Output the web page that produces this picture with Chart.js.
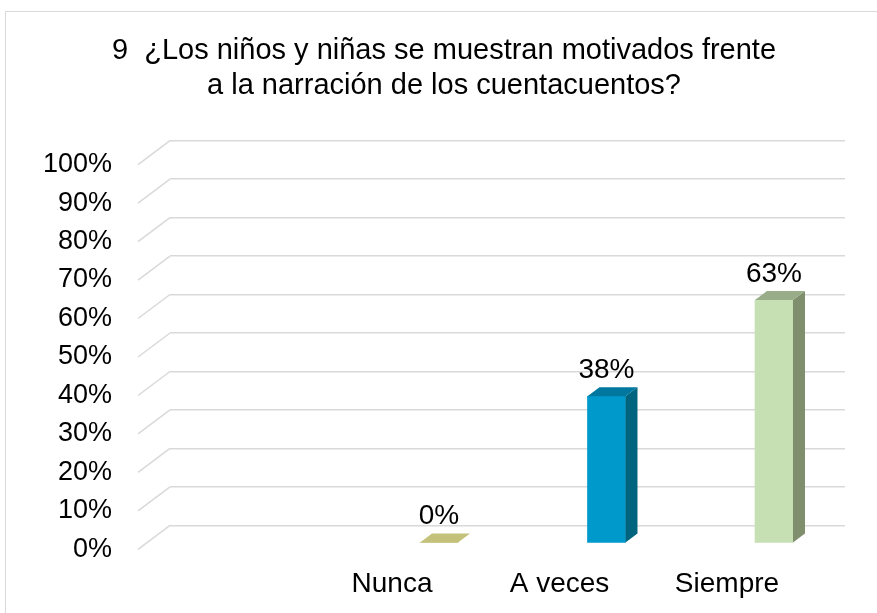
<!DOCTYPE html>
<html lang="es">
<head>
  <meta charset="UTF-8">
  <title>Niños motivados frente a la narración</title>
  <style>
    body { margin: 0; background: #fff; }
    #wrap { position: relative; width: 877px; height: 613px; overflow: hidden; }
    #frame { position: absolute; left: 5px; top: 11px; width: 950px; height: 700px; border: 1.5px solid #d9d9d9; }
    canvas { position: absolute; left: 0; top: 0; }
  </style>
</head>
<body>
  <div id="wrap">
    <div id="frame"></div>
    <canvas id="chart" width="877" height="613"></canvas>
  </div>

  <script src="https://cdn.jsdelivr.net/npm/chart.js"></script>
  <script>
    const categories = ['Nunca', 'A veces', 'Siempre'];
    const values = [0, 38, 63];
    const yTickLabels = ['0%', '10%', '20%', '30%', '40%', '50%', '60%', '70%', '80%', '90%', '100%'];

    const frontColors = ['#c3c37c', '#0099cc', '#c6e0b4'];
    const topColors = ['#c4c27a', '#00779e', '#98ad88'];
    const sideColors = ['#a9a865', '#00647f', '#7f8f6e'];

    const FONT = "'Liberation Sans', Arial, sans-serif";
    const DEPTH_X = 12, DEPTH_Y = 9;

    // slanted lines from the back wall to the tick labels
    const wallPlugin = {
      id: 'wall',
      beforeDatasetsDraw(chart) {
        const sc = chart.scales.y;
        const ctx = chart.ctx;
        const left = chart.chartArea.left;
        ctx.save();
        ctx.strokeStyle = '#d9d9d9';
        ctx.lineWidth = 1.5;
        sc.ticks.forEach(t => {
          const y = sc.getPixelForValue(t.value);
          ctx.beginPath();
          ctx.moveTo(left, y);
          ctx.lineTo(left - 32, y + 24);
          ctx.stroke();
        });
        ctx.restore();
      }
    };

    // side and top faces of the columns, plus value labels
    const columnPlugin = {
      id: 'column3d',
      afterDatasetsDraw(chart) {
        const ctx = chart.ctx;
        const meta = chart.getDatasetMeta(0);
        ctx.save();
        meta.data.forEach((bar, i) => {
          const l = bar.x - bar.width / 2, r = bar.x + bar.width / 2;
          const top = bar.y, base = bar.base;
          if (base - top > 0.5) {
            ctx.fillStyle = sideColors[i];
            ctx.beginPath();
            ctx.moveTo(r, top);
            ctx.lineTo(r + DEPTH_X, top - DEPTH_Y);
            ctx.lineTo(r + DEPTH_X, base - DEPTH_Y);
            ctx.lineTo(r, base);
            ctx.closePath();
            ctx.fill();
          }
          ctx.fillStyle = topColors[i];
          ctx.beginPath();
          ctx.moveTo(l, top);
          ctx.lineTo(l + DEPTH_X, top - DEPTH_Y);
          ctx.lineTo(r + DEPTH_X, top - DEPTH_Y);
          ctx.lineTo(r, top);
          ctx.closePath();
          ctx.fill();

          ctx.fillStyle = '#000';
          ctx.font = '28px ' + FONT;
          ctx.textAlign = 'center';
          ctx.textBaseline = 'alphabetic';
          ctx.fillText(values[i] + '%', bar.x, top - 18);
        });
        ctx.restore();
      }
    };

    new Chart(document.getElementById('chart'), {
      type: 'bar',
      data: {
        datasets: [{
          data: values.map((v, i) => ({ x: i, y: v })),
          backgroundColor: frontColors,
          borderWidth: 0,
          barThickness: 38,
          base: 0,
          clip: false,
          xAxisID: 'x',
          yAxisID: 'yb'
        }]
      },
      options: {
        responsive: false,
        animation: false,
        layout: { padding: { left: 43, right: 32, top: 24, bottom: 12 } },
        plugins: {
          legend: { display: false },
          tooltip: { enabled: false },
          title: {
            display: true,
            text: ['9  ¿Los niños y niñas se muestran motivados frente', 'a la narración de los cuentacuentos?'],
            color: '#000',
            font: { family: FONT, size: 29, weight: 'normal', lineHeight: 1.2 },
            padding: { top: 10, bottom: 37 }
          }
        },
        scales: {
          x: {
            type: 'linear',
            offset: false,
            min: -1.606,
            max: 2.424,
            grid: { display: true, offset: false, drawOnChartArea: false, drawTicks: true, tickLength: 42, tickColor: 'rgba(0,0,0,0)', color: 'rgba(0,0,0,0)' },
            border: { display: false },
            afterBuildTicks(scale) {
              scale.ticks = categories.map((c, i) => ({ value: i }));
            },
            ticks: {
              callback: (v) => categories[v],
              labelOffset: -47,
              padding: 0,
              maxRotation: 0,
              autoSkip: false,
              color: '#000',
              font: { family: FONT, size: 28 }
            }
          },
          y: {
            min: 0,
            max: 100,
            grid: { color: '#d9d9d9', lineWidth: 1.5, drawTicks: true, tickLength: 58, tickColor: 'rgba(0,0,0,0)' },
            border: { display: false },
            afterFit(scale) { scale.width = 127; },
            ticks: {
              stepSize: 10,
              autoSkip: false,
              callback: (v, i) => yTickLabels[i],
              labelOffset: 24,
              padding: 0,
              color: '#000',
              font: { family: FONT, size: 27 }
            }
          },
          yb: {
            display: false,
            min: 4.43,
            max: 104.43
          }
        }
      },
      plugins: [wallPlugin, columnPlugin]
    });
  </script>
</body>
</html>
